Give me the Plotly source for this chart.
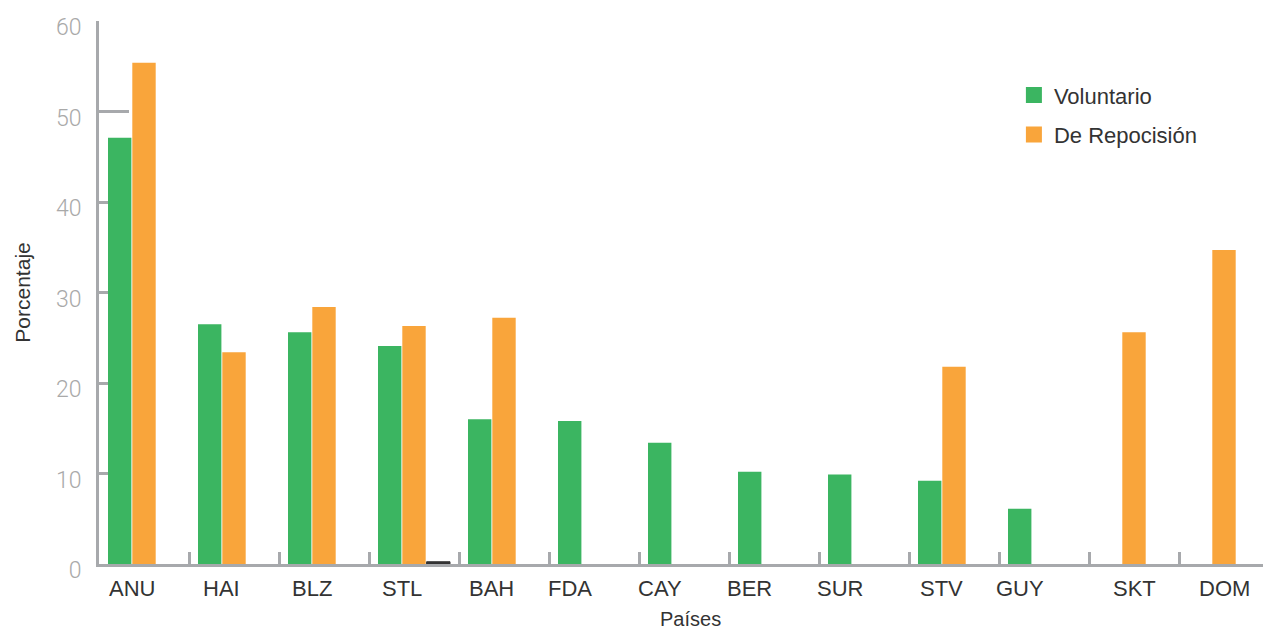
import plotly.graph_objects as go

paises = ["ANU", "HAI", "BLZ", "STL", "BAH", "FDA", "CAY", "BER", "SUR", "STV", "GUY", "SKT", "DOM"]
voluntario = [47.1, 26.5, 25.6, 24.1, 16.0, 15.8, 13.4, 10.2, 9.9, 9.2, 6.1, None, None]
reposicion = [55.4, 23.4, 28.4, 26.3, 27.2, None, None, None, None, 21.8, None, 25.6, 34.7]
otro = [None, None, None, 0.25, None, None, None, None, None, None, None, None, None]
y_ticks = [0, 10, 20, 30, 40, 50, 60]

GREEN = "#3bb561"
ORANGE = "#f9a53b"
GRID = "#a7a9ac"
TEXT = "#333333"
LIGHT = "#a9a9a9"
FONT = "Liberation Sans"

idx = list(range(len(paises)))
BW = 0.26
G_OFF = -0.40
O_OFF = -0.13
X_OFF = 0.14

fig = go.Figure()
fig.add_trace(go.Bar(x=idx, y=voluntario, offset=G_OFF, width=BW, marker=dict(color=GREEN, line=dict(width=0)),
                     showlegend=False, name="Voluntario"))
fig.add_trace(go.Bar(x=idx, y=reposicion, offset=O_OFF, width=BW, marker=dict(color=ORANGE, line=dict(width=0)),
                     showlegend=False, name="De Repocisión"))
fig.add_trace(go.Bar(x=idx, y=otro, offset=X_OFF, width=BW, marker=dict(color="#333333", line=dict(color="#333333", width=1)),
                     showlegend=False, name="Otro"))

# legend-only entries
fig.add_trace(go.Scatter(x=[None], y=[None], mode="markers", name="Voluntario", legendgroup="a",
                         marker=dict(symbol="square", size=18, color=GREEN)))
fig.add_trace(go.Scatter(x=[None], y=[None], mode="markers", name="De Repocisión", legendgroup="b",
                         marker=dict(symbol="square", size=18, color=ORANGE)))

# category labels centred under the bars present in each group
for i, p in enumerate(paises):
    centers = []
    if voluntario[i] is not None:
        centers.append(G_OFF + BW / 2)
    if reposicion[i] is not None:
        centers.append(O_OFF + BW / 2)
    cx = i + sum(centers) / len(centers)
    fig.add_annotation(x=cx, y=0, xref="x", yref="y", text=p, showarrow=False,
                       yanchor="top", yshift=-10, font=dict(family=FONT, size=22, color=TEXT))

# axis titles
fig.add_annotation(x=0.508, y=-0.101, xref="paper", yref="paper", text="Países", showarrow=False,
                   xanchor="center", yanchor="middle", font=dict(family=FONT, size=20, color=TEXT))
fig.add_annotation(x=-0.066, y=0.5, xref="paper", yref="paper", text="Porcentaje", showarrow=False,
                   textangle=-90, xanchor="center", yanchor="middle", font=dict(family=FONT, size=21, color=TEXT))

fig.update_layout(
    width=1263, height=631,
    margin=dict(l=99, r=0, t=21, b=67),
    plot_bgcolor="white", paper_bgcolor="white",
    barmode="overlay",
    font=dict(family=FONT, color=TEXT),
    legend=dict(x=0.786, y=0.902, xanchor="left", yanchor="top", bgcolor="rgba(0,0,0,0)",
                font=dict(family=FONT, size=22, color=TEXT), tracegroupgap=8, traceorder="grouped"),
    showlegend=True,
)
fig.update_xaxes(
    range=[-0.5, len(paises) - 0.5 - 6 / 90], automargin=False,
    tickvals=[i + 0.5 for i in idx[:-1]], ticktext=["" for _ in idx[:-1]],
    ticks="inside", ticklen=12, tickwidth=3, tickcolor=GRID,
    showline=True, linecolor=GRID, linewidth=3, showgrid=False, zeroline=False,
    layer="below traces",
)
fig.update_yaxes(
    range=[0, 60], tickvals=y_ticks, automargin=False,
    ticks="inside", ticklen=30, tickwidth=3, tickcolor=GRID,
    showline=True, linecolor=GRID, linewidth=3, showgrid=False, zeroline=False,
    tickfont=dict(family="Roboto", size=23, color=LIGHT, weight=300), ticklabelstandoff=10, ticklabelshift=6,
    layer="below traces",
)

fig.write_html("out.html", config={"displayModeBar": False},
               post_script="document.body.style.margin='0';document.body.style.overflow='hidden';")
